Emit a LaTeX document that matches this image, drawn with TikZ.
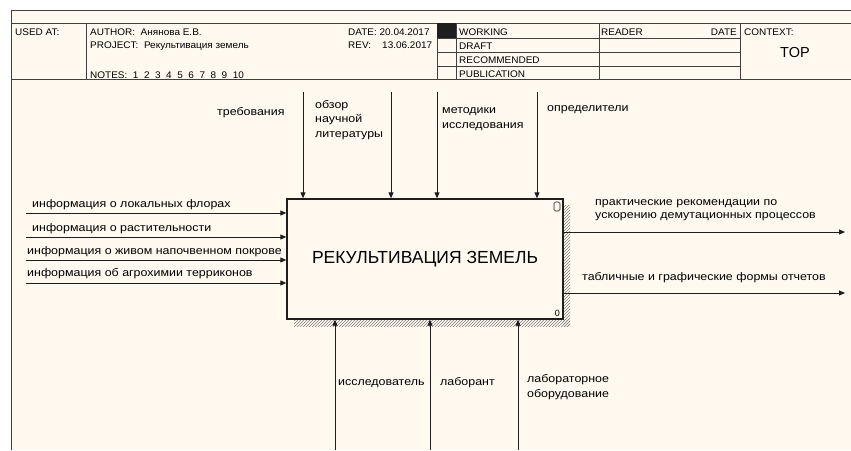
\documentclass[tikz,border=0pt]{standalone}
\usepackage{fontspec}
\setmainfont{Liberation Sans}
\newfontfamily\lblfont[FakeStretch=1.13]{Liberation Sans}
\newfontfamily\hdrfont[FakeStretch=1.04]{Liberation Sans}
\usetikzlibrary{arrows.meta,patterns}
\definecolor{paper}{RGB}{255,249,239}
\definecolor{ink}{RGB}{30,30,30}
\tikzset{
  frm/.style={draw=ink!85,line width=0.9pt},
  hdr/.style={font=\hdrfont\fontsize{9.6}{11}\selectfont,inner sep=0pt,anchor=base west},
  lbl/.style={font=\lblfont\fontsize{11}{14.5}\selectfont,inner sep=0pt,anchor=base west,align=left},
  flow/.style={draw=ink,line width=0.9pt,-{Triangle[length=6pt,width=5pt]}},
}
\begin{document}
\begin{tikzpicture}[x=1pt,y=-1pt]
  \useasboundingbox (0,0) rectangle (851,450);
  \fill[white] (0,0) rectangle (851,450);
  \fill[paper] (11,10) rectangle (851,450);
  %% frame and header
  \draw[frm] (11,450) -- (11,10) -- (851,10);
  \draw[frm] (11,23) -- (851,23);
  \draw[frm] (11,79) -- (851,79);
  \draw[frm] (86,23) -- (86,79);
  \foreach \x in {437,456,599,740} \draw[frm] (\x,23) -- (\x,79);
  \foreach \y in {38,52,66} \draw[frm] (437,\y) -- (740,\y);
  \fill[ink] (437,23) rectangle (456,38);
  \node[hdr] (usedat) at (15,35) {USED AT:};
  \node[hdr] (author) at (90,35) {AUTHOR:\ \ Анянова Е.В.};
  \node[hdr] (project) at (90,48) {PROJECT:\ \ Рекультивация земель};
  \node[hdr] (notes) at (90,78) {NOTES:\ \ 1\ \ 2\ \ 3\ \ 4\ \ 5\ \ 6\ \ 7\ \ 8\ \ 9\ \ 10};
  \node[hdr] (date) at (348,35) {DATE:\ 20.04.2017};
  \node[hdr] (rev) at (348,48) {REV:\ \ \ \ 13.06.2017};
  \node[hdr] (working) at (459,35) {WORKING};
  \node[hdr] (draft) at (459,49) {DRAFT};
  \node[hdr] (recom) at (459,63) {RECOMMENDED};
  \node[hdr] (public) at (459,77) {PUBLICATION};
  \node[hdr] (reader) at (601,35) {READER};
  \node[hdr,anchor=base east] (rdate) at (737,35) {DATE};
  \node[hdr] (context) at (744,35) {CONTEXT:};
  \node[font=\fontsize{14.5}{16}\selectfont,inner sep=0pt,anchor=base] (top) at (795,57) {TOP};
  %% shadow and activity box
  \fill[pattern=north east lines,pattern color=gray] (563,205) rectangle (570,326);
  \fill[pattern=north east lines,pattern color=gray] (294,319) rectangle (570,326);
  \node[draw=ink,fill=paper,line width=1.4pt,minimum width=276pt,minimum height=120pt,inner sep=0pt,
        font=\fontsize{17.5}{20}\selectfont] (A0) at (425,259) {РЕКУЛЬТИВАЦИЯ ЗЕМЕЛЬ};
  \node[font=\fontsize{9}{10}\selectfont,inner sep=0pt,anchor=base east] (num) at (560,316) {0};
  \draw[ink,line width=0.6pt,rounded corners=1.5pt] (554,202) rectangle (560,211);
  %% controls
  \foreach \x/\n in {303/c1,391/c2,437/c3,537/c4} {
    \coordinate (\n) at (\x,92);
    \draw[flow] (\n) -- (\n |- A0.north);
  }
  \node[lbl] (treb) at (217,115) {требования};
  \node[lbl] (obzor) at (315,137) {обзор\\научной\\литературы};
  \node[lbl] (metod) at (442,128) {методики\\исследования};
  \node[lbl] (opred) at (547,111) {определители};
  %% inputs
  \foreach \y/\n in {213/i1,237/i2,260/i3,283/i4} {
    \coordinate (\n) at (26,\y);
    \draw[flow] (\n) -- (\n -| A0.west);
  }
  \node[lbl] (flora) at (32,207) {информация о локальных флорах};
  \node[lbl] (rast) at (32,231) {информация о растительности};
  \node[lbl] (pokrov) at (27,254) {информация о живом напочвенном покрове};
  \node[lbl] (agro) at (27,276) {информация об агрохимии терриконов};
  %% outputs
  \foreach \y/\n in {232/o1,293/o2} {
    \coordinate (\n) at (845,\y);
    \draw[flow] (\n -| A0.east) -- (\n);
  }
  \node[lbl,font=\lblfont\fontsize{11}{12.7}\selectfont] (rekom) at (595,218) {практические рекомендации по\\ускорению демутационных процессов};
  \node[lbl] (formy) at (582,280) {табличные и графические формы отчетов};
  %% mechanisms
  \foreach \x/\n in {335/m1,430/m2,518/m3} {
    \coordinate (\n) at (\x,450);
    \draw[flow] (\n) -- (\n |- A0.south);
  }
  \node[lbl] (issl) at (338,385) {исследователь};
  \node[lbl] (labor) at (440,385) {лаборант};
  \node[lbl] (oborud) at (527,397) {лабораторное\\оборудование};
\end{tikzpicture}
\end{document}
